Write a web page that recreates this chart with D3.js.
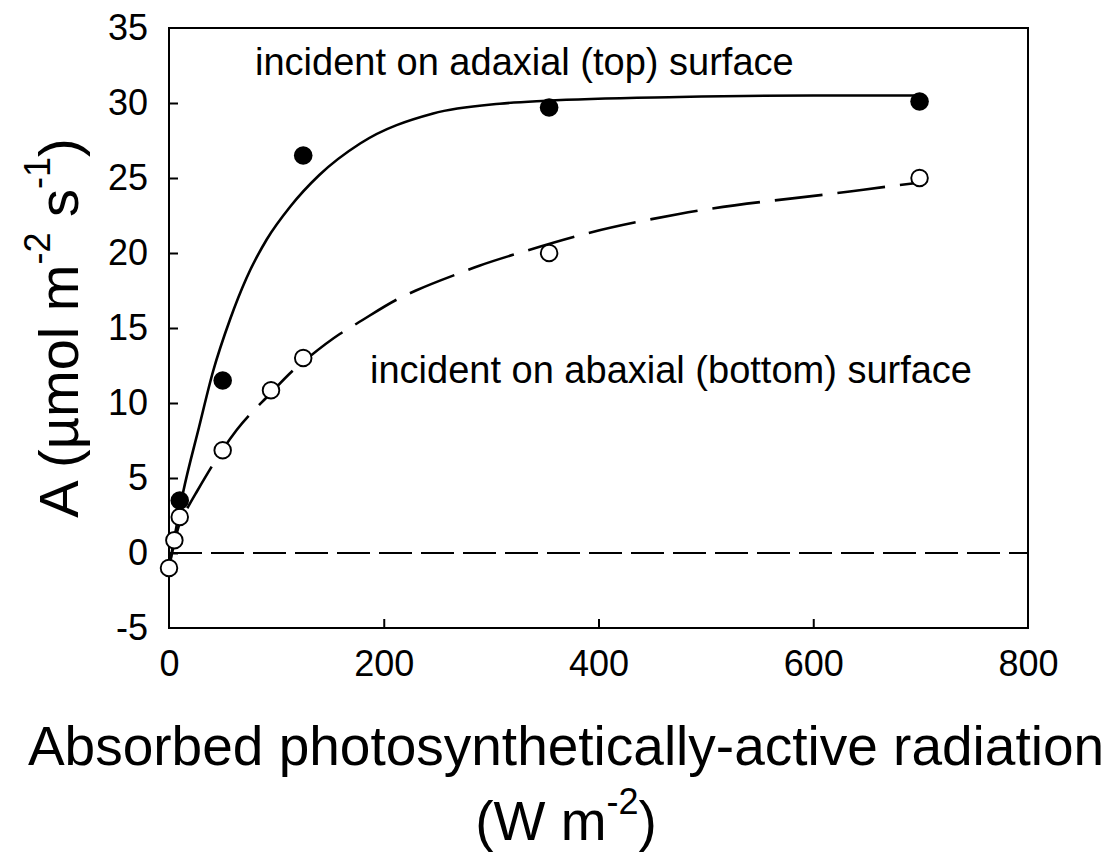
<!DOCTYPE html>
<html>
<head>
<meta charset="utf-8">
<script src="https://cdn.jsdelivr.net/npm/d3@7"></script>
<style>
  body { margin: 0; background: #fff; }
  svg { display: block; font-family: "Liberation Sans", Arial, sans-serif; }
</style>
</head>
<body>
<svg id="chart" width="1113" height="857"></svg>
<script>
// measured points: adaxial (top) illumination
const topPar = [10, 50, 125, 354, 699];
const topA = [3.5, 11.5, 26.5, 29.7, 30.1];

// measured points: abaxial (bottom) illumination
const bottomPar = [0, 5, 10, 50, 95, 125, 354, 699];
const bottomA = [-1.0, 0.85, 2.4, 6.85, 10.85, 13.0, 20.0, 25.0];

// fitted curves
const topCurvePar = [0, 13, 28, 41, 57, 72, 91, 113, 140, 178, 246, 308, 351, 475, 600, 700];
const topCurveA = [-1.0, 4.0, 8.4, 12.1, 15.6, 18.3, 20.9, 23.1, 25.2, 27.3, 29.3, 29.95, 30.15, 30.4, 30.5, 30.5];
const bottomCurvePar = [0, 5, 10, 18, 26, 50, 63, 94, 116, 131, 159, 175, 215, 230, 274, 289, 333, 389, 475, 634, 677, 700];
const bottomCurveA = [-1.0, 0.7, 2.0, 3.1, 4.1, 6.9, 8.2, 10.6, 12.2, 13.1, 14.6, 15.3, 17.0, 17.5, 18.75, 19.15, 20.15, 21.3, 22.6, 24.1, 24.5, 24.7];

const xTicks = [0, 200, 400, 600, 800];
const yTicks = [-5, 0, 5, 10, 15, 20, 25, 30, 35];

const svg = d3.select("#chart");
const plotL = 169, plotR = 1028, plotT = 28, plotB = 628;

const x = d3.scaleLinear().domain([0, 800]).range([plotL, plotR]);
const y = d3.scaleLinear().domain([-5, 35]).range([plotB, plotT]);

const zip = (a, b) => a.map((v, i) => [v, b[i]]);

// zero reference line
svg.append("line")
  .attr("x1", x(0)).attr("x2", x(800))
  .attr("y1", y(0)).attr("y2", y(0))
  .attr("stroke", "black")
  .attr("stroke-width", 2)
  .attr("stroke-dasharray", "33,9");

const line = d3.line()
  .x(d => x(d[0]))
  .y(d => y(d[1]))
  .curve(d3.curveMonotoneX);

svg.append("path")
  .datum(zip(topCurvePar, topCurveA))
  .attr("d", line)
  .attr("fill", "none")
  .attr("stroke", "black")
  .attr("stroke-width", 2.6);

svg.append("path")
  .datum(zip(bottomCurvePar, bottomCurveA))
  .attr("d", line)
  .attr("fill", "none")
  .attr("stroke", "black")
  .attr("stroke-width", 2.6)
  .attr("stroke-dasharray", "48,15");

// frame
svg.append("rect")
  .attr("x", plotL).attr("y", plotT)
  .attr("width", plotR - plotL).attr("height", plotB - plotT)
  .attr("fill", "none")
  .attr("stroke", "black")
  .attr("stroke-width", 2);

// axes, ticks pointing inward; plain hyphen for negatives
const fmt = d => String(d);
const xAxis = svg.append("g")
  .attr("transform", `translate(0,${plotB})`)
  .call(d3.axisBottom(x).tickValues(xTicks).tickSize(-9).tickPadding(22).tickFormat(fmt));
const yAxis = svg.append("g")
  .attr("transform", `translate(${plotL},0)`)
  .call(d3.axisLeft(y).tickValues(yTicks).tickSize(-9).tickPadding(21).tickFormat(fmt));

[xAxis, yAxis].forEach(g => {
  g.select(".domain").remove();
  g.selectAll(".tick line").attr("stroke", "black").attr("stroke-width", 2);
  g.selectAll(".tick text")
    .attr("fill", "black")
    .attr("font-size", 36)
    .attr("font-family", "'Liberation Sans', Arial, sans-serif");
});
xAxis.selectAll(".tick").filter(d => d === 0 || d === 800).select("line").remove();
yAxis.selectAll(".tick").filter(d => d === -5 || d === 35).select("line").remove();

// points
svg.append("g").selectAll("circle")
  .data(zip(bottomPar, bottomA))
  .join("circle")
  .attr("cx", d => x(d[0]))
  .attr("cy", d => y(d[1]))
  .attr("r", 8.3)
  .attr("fill", "white")
  .attr("stroke", "black")
  .attr("stroke-width", 1.9);

svg.append("g").selectAll("circle")
  .data(zip(topPar, topA))
  .join("circle")
  .attr("cx", d => x(d[0]))
  .attr("cy", d => y(d[1]))
  .attr("r", 9.3)
  .attr("fill", "black");

// annotations
svg.append("text")
  .attr("x", 255).attr("y", 75)
  .attr("font-size", 38)
  .text("incident on adaxial (top) surface");
svg.append("text")
  .attr("x", 370).attr("y", 383)
  .attr("font-size", 38)
  .text("incident on abaxial (bottom) surface");

// x axis title
svg.append("text")
  .attr("x", 566).attr("y", 765)
  .attr("text-anchor", "middle")
  .attr("font-size", 55)
  .text("Absorbed photosynthetically-active radiation");

const xUnit = svg.append("text")
  .attr("x", 566).attr("y", 840)
  .attr("text-anchor", "middle")
  .attr("font-size", 55);
xUnit.append("tspan").text("(W m");
xUnit.append("tspan").attr("font-size", 36).attr("dy", -26).text("-2");
xUnit.append("tspan").attr("dy", 26).text(")");

// y axis title
const yTitle = svg.append("text")
  .attr("transform", `translate(78,${(plotT + plotB) / 2}) rotate(-90)`)
  .attr("text-anchor", "middle")
  .attr("font-size", 56);
yTitle.append("tspan").text("A (\u00b5mol m");
yTitle.append("tspan").attr("font-size", 36).attr("dy", -28).text("-2");
yTitle.append("tspan").attr("dy", 28).text(" s");
yTitle.append("tspan").attr("font-size", 36).attr("dy", -28).text("-1");
yTitle.append("tspan").attr("dy", 28).text(")");
</script>
</body>
</html>
